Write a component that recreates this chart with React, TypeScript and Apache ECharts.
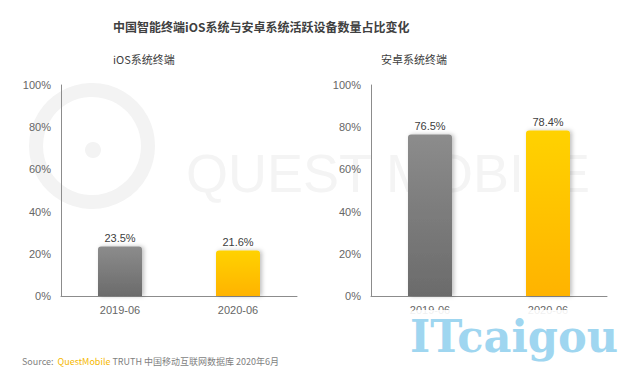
import React, { useEffect, useRef } from "react";
import * as echarts from "echarts";

const categories = ["2019-06", "2020-06"];
const iosValues = [23.5, 21.6];
const androidValues = [76.5, 78.4];
const yTicks = [0, 20, 40, 60, 80, 100];

const grayGrad = new echarts.graphic.LinearGradient(0, 0, 0, 1, [
  { offset: 0, color: "#8c8c8c" },
  { offset: 1, color: "#6b6b6b" },
]);
const yellowGrad = new echarts.graphic.LinearGradient(0, 0, 0, 1, [
  { offset: 0, color: "#ffd200" },
  { offset: 1, color: "#ffb300" },
]);

const axisFont = "Liberation Sans, Arial, sans-serif";

function makeData(values: number[]) {
  return values.map((v, i) => ({
    value: v,
    itemStyle: {
      color: i === 0 ? grayGrad : yellowGrad,
      borderRadius: [3, 3, 0, 0],
      shadowColor: "rgba(0,0,0,0.25)",
      shadowBlur: 4,
      shadowOffsetX: 2,
      shadowOffsetY: 0,
    },
  }));
}

export default function App() {
  const ref = useRef<HTMLDivElement>(null);
  useEffect(() => {
    if (!ref.current) return;
    const chart = echarts.init(ref.current, null, { renderer: "svg" });
    const yAxisBase = {
      type: "value" as const,
      min: 0,
      max: 100,
      interval: 20,
      axisLine: { show: true, lineStyle: { color: "#8c8c8c", width: 1 } },
      axisTick: { show: false },
      splitLine: { show: false },
      axisLabel: {
        formatter: (v: number) => (yTicks.includes(v) ? v + "%" : ""),
        color: "#666666",
        fontSize: 11,
        fontFamily: axisFont,
        margin: 10,
      },
    };
    const xAxisBase = {
      type: "category" as const,
      data: categories,
      axisLine: { show: true, lineStyle: { color: "#8c8c8c", width: 1 } },
      axisTick: { show: false },
      axisLabel: { color: "#666666", fontSize: 11, fontFamily: axisFont, margin: 8 },
    };
    const labelStyle = {
      show: true,
      position: "top" as const,
      formatter: "{c}%",
      color: "#404040",
      fontSize: 11,
      fontFamily: axisFont,
      distance: 3,
    };
    chart.setOption({
      animation: false,
      backgroundColor: "#ffffff",
      graphic: [
        {
          type: "circle",
          shape: { cx: 92, cy: 146, r: 56 },
          z: 0,
          style: { fill: "none", stroke: "#f3f3f3", lineWidth: 14 },
        },
        {
          type: "circle",
          shape: { cx: 93, cy: 150, r: 8 },
          z: 0,
          style: { fill: "#f3f3f3" },
        },
        {
          type: "text",
          left: 186,
          top: 146,
          z: 0,
          style: {
            text: "QUEST MOBILE",
            fontSize: 54,
            fontFamily: "Liberation Sans, Arial, sans-serif",
            fill: "#f4f4f4",
          },
        },
        {
          type: "text",
          left: 113,
          top: 20,
          style: {
            text: "中国智能终端iOS系统与安卓系统活跃设备数量占比变化",
            fontSize: 12,
            fontWeight: "bold",
            fontFamily: "Noto Sans CJK SC",
            fill: "#404040",
          },
        },
        {
          type: "text",
          left: 113,
          top: 53,
          style: {
            text: "iOS系统终端",
            fontSize: 11,
            fontFamily: "Noto Sans CJK SC",
            fill: "#404040",
          },
        },
        {
          type: "text",
          left: 381,
          top: 53,
          style: {
            text: "安卓系统终端",
            fontSize: 11,
            fontFamily: "Noto Sans CJK SC",
            fill: "#404040",
          },
        },
        {
          type: "text",
          left: 22,
          top: 357,
          style: {
            rich: {
              a: { fontSize: 9, fill: "#7f7f7f", fontFamily: "Noto Sans CJK SC" },
              b: { fontSize: 9, fill: "#f5b800", fontFamily: "Noto Sans CJK SC" },
            },
            text: "{a|Source:  }{b|QuestMobile}{a| TRUTH 中国移动互联网数据库 2020年6月}",
          },
        },
        {
          type: "rect",
          shape: { x: 398, y: 310, width: 232, height: 58, r: 20 },
          z: 100,
          style: { fill: "rgba(255,255,255,0.9)" },
        },
        {
          type: "text",
          x: 410,
          y: 314,
          scaleX: 0.98,
          z: 101,
          style: {
            text: "ITcaigou",
            fontSize: 44,
            fontWeight: "bold",
            fontFamily: "DejaVu Serif",
            fill: "#9fd6f0",
          },
        },
      ],
      grid: [
        { left: 61, top: 85, width: 236, height: 211 },
        { left: 371, top: 85, width: 236, height: 211 },
      ],
      xAxis: [
        { ...xAxisBase, gridIndex: 0 },
        { ...xAxisBase, gridIndex: 1 },
      ],
      yAxis: [
        { ...yAxisBase, gridIndex: 0 },
        { ...yAxisBase, gridIndex: 1 },
      ],
      series: [
        {
          type: "bar",
          name: "iOS系统终端",
          xAxisIndex: 0,
          yAxisIndex: 0,
          barWidth: 44,
          data: makeData(iosValues),
          label: labelStyle,
        },
        {
          type: "bar",
          name: "安卓系统终端",
          xAxisIndex: 1,
          yAxisIndex: 1,
          barWidth: 44,
          data: makeData(androidValues),
          label: labelStyle,
        },
      ],
    });
    return () => chart.dispose();
  }, []);
  return (
    <div
      ref={ref}
      style={{ position: "absolute", left: 0, top: 0, width: 630, height: 376 }}
    />
  );
}
